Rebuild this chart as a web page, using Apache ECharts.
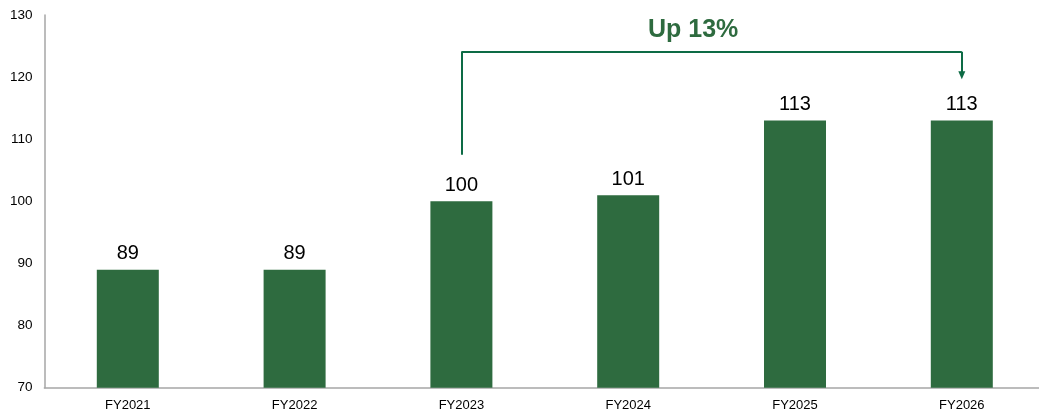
<!DOCTYPE html>
<html><head><meta charset="utf-8">
<script src="https://cdn.jsdelivr.net/npm/echarts@6/dist/echarts.min.js"></script>
<style>html,body{margin:0;padding:0;background:#fff;overflow:hidden}#c{width:1046px;height:414px}</style>
</head><body><div id="c"></div>
<script>
const categories = ['FY2021','FY2022','FY2023','FY2024','FY2025','FY2026'];
const values = [89, 89, 100, 101, 113, 113];
const yTicks = [70, 80, 90, 100, 110, 120, 130];
const annotationText = 'Up 13%';
const bracketFrom = 'FY2023', bracketTo = 'FY2026';
const bracketStart = 107.5, bracketTop = 124.1, bracketEnd = 120.3;

const chart = echarts.init(document.getElementById('c'), null, {renderer:'canvas'});
const green = '#2e6b3f', lineGreen = '#0d6b45';
const seg = (a, b, arrow) => [
  {coord: a, symbol: 'none'},
  {coord: b, symbol: arrow ? 'triangle' : 'none', symbolSize: arrow ? [7, 8] : 0}
];
chart.setOption({
  animation: false,
  grid: {left: 44.4, right: 0.8, top: 15, bottom: 26.3, containLabel: false},
  xAxis: {
    type: 'category', data: categories,
    axisLine: {lineStyle: {color: '#a6a6a6', width: 1.5}},
    axisTick: {show: false},
    axisLabel: {color: '#000', fontSize: 13, fontFamily: 'Liberation Sans, Arial', margin: 11}
  },
  yAxis: {
    type: 'value', min: yTicks[0], max: yTicks[yTicks.length-1], interval: 10,
    axisLine: {show: true, lineStyle: {color: '#a6a6a6', width: 1.5}},
    axisTick: {show: false},
    splitLine: {show: false},
    axisLabel: {color: '#000', fontSize: 13.5, fontFamily: 'Liberation Sans, Arial', margin: 12}
  },
  series: [{
    type: 'bar', data: values, barWidth: 62,
    itemStyle: {color: green},
    label: {show: true, position: 'top', distance: 6, color: '#000', fontSize: 20, fontFamily: 'Liberation Sans, Arial'},
    markLine: {
      silent: true, animation: false,
      lineStyle: {color: lineGreen, width: 2, type: 'solid'},
      label: {show: false},
      data: [
        seg([bracketFrom, bracketStart], [bracketFrom, bracketTop], false),
        seg([bracketFrom, bracketTop], [bracketTo, bracketTop], false),
        seg([bracketTo, bracketTop], [bracketTo, bracketEnd], true)
      ]
    }
  }],
  graphic: [{
    type: 'text', left: 648, top: 18,
    style: {text: annotationText, fill: green, font: 'bold 25px "Liberation Sans", Arial'}
  }]
});
</script></body></html>
